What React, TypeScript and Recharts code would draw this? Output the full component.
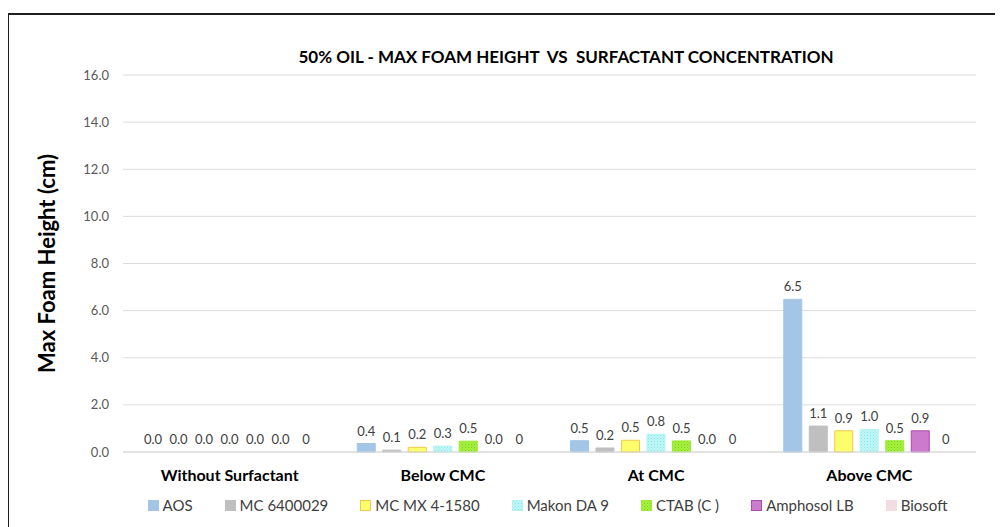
import React from 'react';
import { BarChart, Bar, XAxis, YAxis, CartesianGrid, LabelList, Legend, Cell } from 'recharts';

// categorias e séries
const categories = ['Without Surfactant', 'Below CMC', 'At CMC', 'Above CMC'];

const aos = [0, 0.36, 0.48, 6.48];
const mc6400029 = [0, 0.08, 0.17, 1.1];
const mcMx = [0, 0.2, 0.5, 0.9];
const makon = [0, 0.25, 0.75, 0.96];
const ctab = [0, 0.46, 0.47, 0.48];
const amphosol = [0, 0, 0, 0.9];
const biosoft = [0, 0, 0, 0];

const yTicks = [0, 2, 4, 6, 8, 10, 12, 14, 16];

const FONT = 'Lato, "Open Sans", sans-serif';

const series = [
  { key: 'aos', name: 'AOS', values: aos, fill: '#A3C6E6', stroke: '#A3C6E6' },
  { key: 'mc', name: 'MC 6400029', values: mc6400029, fill: '#BFBFBF', stroke: '#BFBFBF' },
  { key: 'mx', name: 'MC MX 4-1580', values: mcMx, fill: '#FFFF6B', stroke: '#F2C94C' },
  { key: 'makon', name: 'Makon DA 9', values: makon, fill: 'url(#dotCyan)', stroke: '#B5F2F2' },
  { key: 'ctab', name: 'CTAB (C )', values: ctab, fill: 'url(#dotGreen)', stroke: '#9BEA3A' },
  { key: 'amph', name: 'Amphosol LB', values: amphosol, fill: '#CC7ACC', stroke: '#A84CB0' },
  { key: 'bio', name: 'Biosoft', values: biosoft, fill: '#F3DCE2', stroke: '#F3DCE2' },
];

const data = categories.map((name, i) => {
  const row: Record<string, string | number> = { name };
  series.forEach((s) => { row[s.key] = s.values[i]; });
  return row;
});

const LegendSwatch = ({ s }: { s: typeof series[number] }) => (
  <svg width={11} height={11} style={{ marginRight: 4 }}>
    <rect x={0.5} y={0.5} width={10} height={10} fill={s.fill} stroke={s.stroke} strokeWidth={1} />
  </svg>
);

// legenda própria, deslocada para a direita como no original
const renderLegend = () => (
  <div style={{ display: 'flex', justifyContent: 'center', gap: 32, paddingLeft: 60, fontFamily: FONT, fontSize: 15, color: '#404040' }}>
    {series.map((s) => (
      <div key={s.key} style={{ display: 'flex', alignItems: 'center' }}>
        <LegendSwatch s={s} />
        <span>{s.name}</span>
      </div>
    ))}
  </div>
);

export default function App() {
  return (
    <div style={{ paddingTop: 5 }}>
      <div
        style={{
          position: 'relative',
          boxSizing: 'border-box',
          width: 995,
          height: 514,
          borderLeft: '2px solid #1e1e1e',
          borderTop: '2px solid #1e1e1e',
          marginLeft: -1,
        }}
      >
        <div
          style={{
            position: 'absolute',
            left: 557,
            top: 31,
            transform: 'translateX(-50%)',
            whiteSpace: 'pre',
            fontFamily: FONT,
            fontWeight: 700,
            fontSize: 17,
            color: '#000',
          }}
        >
          {'50% OIL - MAX FOAM HEIGHT  VS  SURFACTANT CONCENTRATION'}
        </div>
        <BarChart
          width={993}
          height={512}
          data={data}
          margin={{ top: 60, right: 26, left: 50, bottom: 13 }}
          barSize={18}
          barGap={7.5}
          style={{ fontFamily: FONT }}
        >
          <defs>
            <pattern id="dotCyan" width={3} height={3} patternUnits="userSpaceOnUse">
              <rect width={3} height={3} fill="#C4F7F7" />
              <rect width={1} height={1} fill="#7FE6EA" />
              <rect x={1.5} y={1.5} width={1} height={1} fill="#8FEAEE" />
            </pattern>
            <pattern id="dotGreen" width={3} height={3} patternUnits="userSpaceOnUse">
              <rect width={3} height={3} fill="#A6F23C" />
              <rect width={1} height={1} fill="#7CCB1E" />
              <rect x={1.5} y={1.5} width={1} height={1} fill="#86D826" />
            </pattern>
          </defs>
          <CartesianGrid vertical={false} stroke="#DCDCDC" />
          <XAxis
            dataKey="name"
            tickLine={false}
            axisLine={{ stroke: '#D9D9D9' }}
            tickMargin={12}
            height={44}
            tick={{ fontSize: 16, fontWeight: 700, fill: '#000' }}
          />
          <YAxis
            domain={[0, 16]}
            ticks={yTicks}
            width={64}
            tickLine={false}
            axisLine={false}
            tickMargin={8}
            tickFormatter={(v: number) => v.toFixed(1)}
            tick={{ fontSize: 13, fill: '#595959' }}
            label={{
              value: 'Max Foam Height (cm)',
              angle: -90,
              position: 'left',
              offset: 12,
              style: { fontSize: 22, fontWeight: 700, fill: '#000', textAnchor: 'middle' },
            }}
          />
          <Legend verticalAlign="bottom" content={renderLegend} />
          {series.map((s) => (
            <Bar
              key={s.key}
              dataKey={s.key}
              name={s.name}
              fill={s.fill}
              stroke={s.stroke}
              strokeWidth={1}
              minPointSize={0.01}
              isAnimationActive={false}
            >
              {s.values.map((v, i) => (
                <Cell key={i} stroke={v === 0 ? 'none' : s.stroke} />
              ))}
              <LabelList
                dataKey={s.key}
                position="top"
                offset={8}
                fontSize={13}
                fill="#404040"
                formatter={(v: number) => (s.key === 'bio' ? String(v) : Number(v).toFixed(1))}
              />
            </Bar>
          ))}
        </BarChart>
      </div>
    </div>
  );
}
